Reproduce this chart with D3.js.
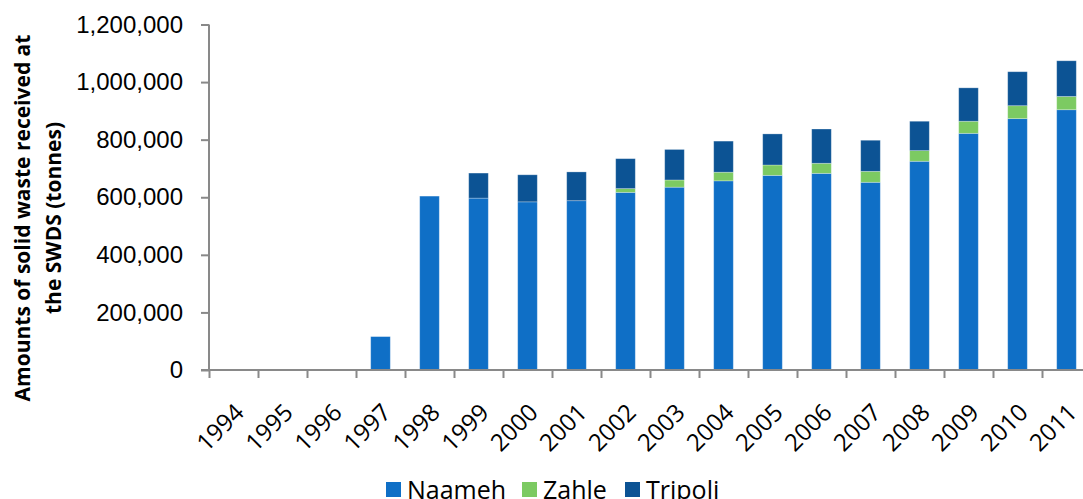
<!DOCTYPE html>
<html>
<head>
<meta charset="utf-8">
<script src="https://cdn.jsdelivr.net/npm/d3@7"></script>
<style>
  body { margin: 0; background: #fff; }
  svg { display: block; font-family: "Open Sans", sans-serif; }
  .axis path, .axis line { stroke: #898989; stroke-width: 2; }
  .axis text { fill: #000; font-size: 24px; }
</style>
</head>
<body>
<div id="chart"></div>
<script>
// Solid waste received at the SWDS, tonnes
var years = ["1994", "1995", "1996", "1997", "1998", "1999", "2000", "2001", "2002",
             "2003", "2004", "2005", "2006", "2007", "2008", "2009", "2010", "2011"];
var naameh = [0, 0, 0, 116000, 604000, 597000, 584000, 588000, 617000,
              635000, 657000, 676000, 683000, 652000, 725000, 822000, 873000, 904000];
var zahle = [0, 0, 0, 0, 0, 0, 0, 0, 13000,
             25000, 30000, 36000, 35000, 38000, 37000, 42000, 45000, 46000];
var tripoli = [0, 0, 0, 0, 0, 87000, 94000, 100000, 104000,
               106000, 108000, 108000, 119000, 108000, 102000, 116000, 118000, 124000];
var seriesNames = ["Naameh", "Zahle", "Tripoli"];
var yTicks = [0, 200000, 400000, 600000, 800000, 1000000, 1200000];

var colors = { "Naameh": "#0f6fc6", "Zahle": "#7cca62", "Tripoli": "#0c5394" };

var W = 1083, H = 499;
var margin = { top: 24.5, left: 209 },
    width = 882,
    height = 345.5;

var svg = d3.select("#chart").append("svg")
    .attr("width", W)
    .attr("height", H);

var g = svg.append("g")
    .attr("transform", "translate(" + margin.left + "," + margin.top + ")");

var table = years.map(function(y, i) {
    return { year: y, Naameh: naameh[i], Zahle: zahle[i], Tripoli: tripoli[i] };
});

var stack = d3.stack().keys(seriesNames)(table);

var x = d3.scaleBand()
    .domain(years)
    .range([0, width])
    .paddingInner(0.6)
    .paddingOuter(0.3);

var y = d3.scaleLinear()
    .domain([0, 1200000])
    .range([height, 0]);

// bars
g.selectAll("g.layer")
    .data(stack)
    .enter()
    .append("g")
    .attr("class", "layer")
    .attr("fill", function(d) { return colors[d.key]; })
    .selectAll("rect")
    .data(function(d) { return d.filter(function(p) { return p[1] - p[0] > 0; }); })
    .enter()
    .append("rect")
    .attr("x", function(d) { return x(d.data.year); })
    .attr("width", x.bandwidth())
    .attr("y", function(d) { return y(d[1]); })
    .attr("height", function(d) { return y(d[0]) - y(d[1]); })
    .attr("stroke", "#ffffff")
    .attr("stroke-opacity", 0.35)
    .attr("stroke-width", 0.8);

// y axis
var yAxis = d3.axisLeft(y)
    .tickValues(yTicks)
    .tickSize(8)
    .tickPadding(18)
    .tickFormat(d3.format(","));

g.append("g")
    .attr("class", "axis y")
    .call(yAxis)
    .call(function(s) { s.select(".domain").attr("d", "M0,0V" + height); });

// x axis: ticks on category boundaries
var xb = d3.scaleLinear().domain([0, years.length]).range([0, width]);
var xAxis = d3.axisBottom(xb)
    .tickValues(d3.range(0, years.length + 1))
    .tickSize(8)
    .tickFormat("");

g.append("g")
    .attr("class", "axis x")
    .attr("transform", "translate(0," + height + ")")
    .call(xAxis)
    .call(function(s) { s.select(".domain").attr("d", "M-8,0H" + width); });

g.append("g")
    .selectAll("text")
    .data(years)
    .enter()
    .append("text")
    .attr("transform", function(d) {
        var cx = x(d) + x.bandwidth() / 2;
        return "translate(" + (cx + 6) + "," + (height + 38) + ") rotate(-45)";
    })
    .attr("text-anchor", "end")
    .attr("dy", "0.35em")
    .style("font-size", "24px")
    .text(function(d) { return d; });

// y title
var title = svg.append("text")
    .attr("transform", "translate(32,218) rotate(-90)")
    .attr("text-anchor", "middle")
    .style("font-size", "21px")
    .style("font-weight", "bold");
title.append("tspan").attr("x", 0).attr("dy", "-0.1em").text("Amounts of solid waste received at");
title.append("tspan").attr("x", 0).attr("dy", "1.5em").text("the SWDS (tonnes)");

// legend
var legendX = [386, 522, 625];
var legend = svg.append("g").attr("class", "legend");
seriesNames.forEach(function(name, i) {
    legend.append("rect")
        .attr("x", legendX[i])
        .attr("y", 482)
        .attr("width", 15)
        .attr("height", 15)
        .attr("fill", colors[name]);
    legend.append("text")
        .attr("x", legendX[i] + 21)
        .attr("y", 498.5)
        .style("font-size", "25px")
        .text(name);
});
</script>
</body>
</html>
